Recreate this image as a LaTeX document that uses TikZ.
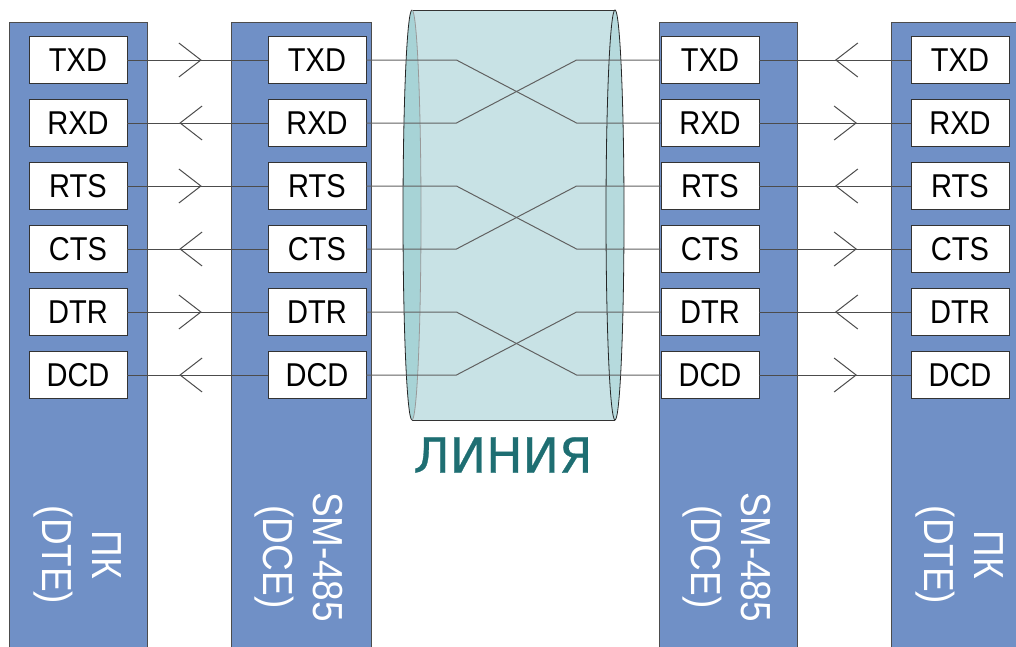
\documentclass[tikz,border=0pt]{standalone}
\usepackage{fontspec}
\setmainfont{Liberation Sans}
\newfontfamily\narrowfont[FakeStretch=0.88]{Liberation Sans}
\newfontfamily\cablefont[FakeBold=0.6]{DejaVu Sans}
\usetikzlibrary{arrows.meta,decorations.markings,calc}

\definecolor{portblue}{RGB}{112,144,198}
\definecolor{cablefill}{RGB}{200,226,229}
\definecolor{cableend}{RGB}{167,211,214}
\definecolor{cabletext}{RGB}{30,110,114}

\tikzset{
	chev/.tip={Straight Barb[length=22pt,width=34pt,line width=1pt]},
	device/.style={fill=portblue,draw=black!70,line width=0.8pt},
	signal/.style={draw=black!80,fill=white,line width=0.9pt,minimum width=98pt,minimum height=47pt,inner sep=0pt,font=\narrowfont\fontsize{33}{33}\selectfont},
	devlabel/.style={rotate=-90,text=white,align=center,font=\narrowfont\fontsize{42}{50}\selectfont},
	link/.style={draw=black!70,line width=1pt},
	wire/.style={draw=black!62,line width=1pt},
	fwd/.style={postaction={decorate},decoration={markings,mark=at position #1 with {\arrow{chev}}}},
	bwd/.style={postaction={decorate},decoration={markings,mark=at position #1 with {\arrowreversed{chev}}}}
}

\begin{document}
\begin{tikzpicture}[x=1pt,y=-1pt]
	\useasboundingbox (0,0) rectangle (1016,646);
	% device columns
	\draw[device] (9,22) rectangle (147,660);
	\draw[device] (231,22) rectangle (371,660);
	\draw[device] (659,22) rectangle (797,660);
	\draw[device] (891,22) rectangle (1030,660);
	% cable
	\fill[cablefill] (412,10) rectangle (615,420);
	\draw[black!80,line width=0.9pt] (412,10) -- (615,10) (412,420) -- (615,420);
	\fill[cableend] (412,215) ellipse [x radius=9,y radius=205];
	\draw[black!85,line width=0.8pt] (412,10) arc [start angle=270,end angle=90,x radius=9,y radius=205];
	\draw[black!40,line width=0.8pt] (412,10) arc [start angle=-90,end angle=90,x radius=9,y radius=205];
	\filldraw[fill=cableend!55!cablefill,draw=black!85,line width=0.8pt] (615,215) ellipse [x radius=9,y radius=205];
	% signals
	\foreach \sig/\ld/\lp/\rd/\rp [count=\i] in {TXD/fwd/0.53/bwd/0.5,RXD/bwd/0.37/fwd/0.645,RTS/fwd/0.53/bwd/0.5,CTS/bwd/0.37/fwd/0.645,DTR/fwd/0.53/bwd/0.5,DCD/bwd/0.37/fwd/0.645} {
		\node[signal] (pcl\i) at (78,{60+63*(\i-1)}) {\sig};
		\node[signal] (sml\i) at (317,{60+63*(\i-1)}) {\sig};
		\node[signal] (smr\i) at (710,{60+63*(\i-1)}) {\sig};
		\node[signal] (pcr\i) at (960,{60+63*(\i-1)}) {\sig};
		\draw[link,\ld=\lp] (pcl\i.east) -- (sml\i.west);
		\draw[link,\rd=\rp] (smr\i.east) -- (pcr\i.west);
	}
	% crossed pairs in the line
	\foreach \a/\b in {1/2,3/4,5/6} {
		\draw[wire] (sml\a.east) -- ($(sml\a.east)+(90,0)$) -- ($(smr\b.west)+(-84,0)$) -- (smr\b.west);
		\draw[wire] (sml\b.east) -- ($(sml\b.east)+(90,0)$) -- ($(smr\a.west)+(-84,0)$) -- (smr\a.west);
	}
	\node[text=cabletext,font=\cablefont\fontsize{48.5}{48.5}\selectfont] (line) at (503,455) {ЛИНИЯ};
	% device labels
	\node[devlabel] (pcA) at (78,555) {ПК\\(DTE)};
	\node[devlabel] (smA) at (299,557) {SM-485\\(DCE)};
	\node[devlabel] (smB) at (727,557) {SM-485\\(DCE)};
	\node[devlabel] (pcB) at (960,555) {ПК\\(DTE)};
\end{tikzpicture}
\end{document}
